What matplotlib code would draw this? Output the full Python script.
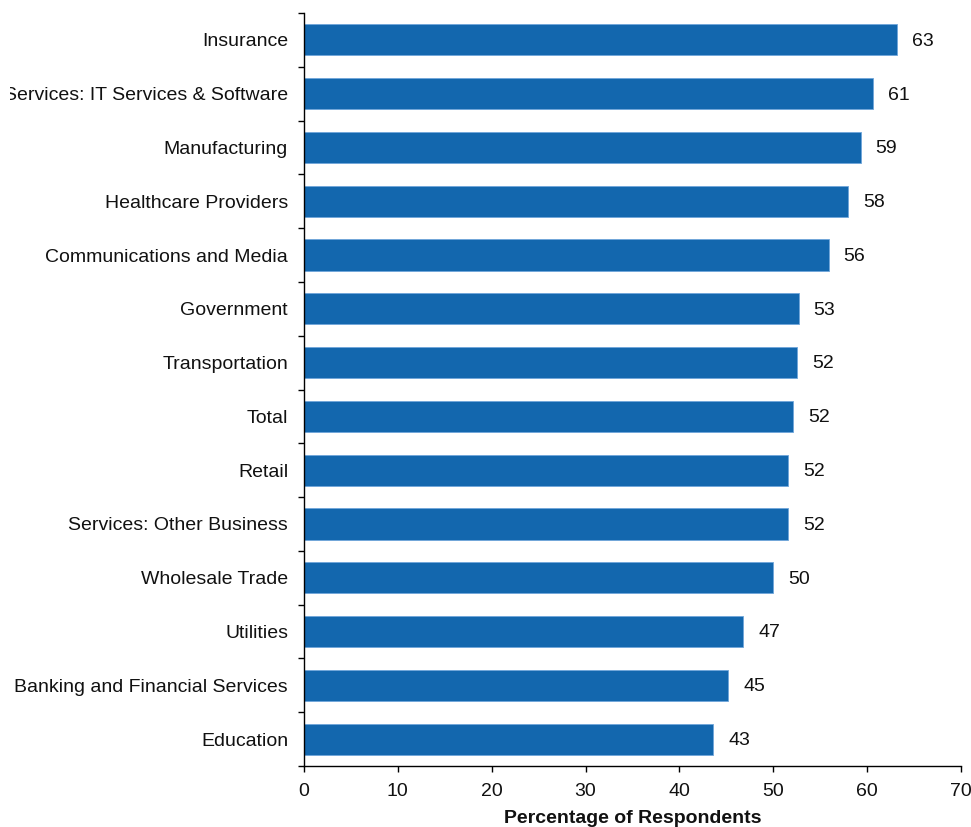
import matplotlib
matplotlib.use("Agg")
import matplotlib.pyplot as plt
from matplotlib.patches import Rectangle
import numpy as np

categories = ["Insurance", "Services: IT Services & Software", "Manufacturing",
              "Healthcare Providers", "Communications and Media", "Government",
              "Transportation", "Total", "Retail", "Services: Other Business",
              "Wholesale Trade", "Utilities", "Banking and Financial Services",
              "Education"]
values = [63.2, 60.6, 59.3, 58.0, 55.9, 52.7, 52.5, 52.1, 51.6, 51.6, 50.0, 46.8, 45.2, 43.6]
value_labels = ["63", "61", "59", "58", "56", "53", "52", "52", "52", "52", "50", "47", "45", "43"]
xticks = [0, 10, 20, 30, 40, 50, 60, 70]

plt.rcParams['font.family'] = ['Liberation Sans', 'DejaVu Sans']

fig = plt.figure(figsize=(9.71, 8.27), dpi=100)
ax = fig.add_axes([304/971, 1-766/827, (961-304)/971, (766-13)/827])

y = np.arange(len(categories))
ax.barh(y, values, height=0.58, color='#1367AE', edgecolor='#6FA6DA', linewidth=0.6)

for yi, v, lab in zip(y, values, value_labels):
    ax.annotate(lab, xy=(v, yi), xytext=(10.8, -1), textcoords='offset points',
                ha='left', va='center', fontsize=14, color='#111111')

ax.set_ylim(len(categories) - 0.5, -0.5)
ax.set_xlim(0, 70)
ax.set_xticks(xticks)
ax.set_yticks(y)
ax.set_yticklabels(categories, fontsize=14, color='#111111')
ax.set_yticks(np.arange(len(categories) + 1) - 0.5, minor=True)
ax.tick_params(axis='y', which='major', length=0, pad=11.5)
ax.tick_params(axis='y', which='minor', length=4, width=1, direction='out')
ax.tick_params(axis='x', which='major', length=4, width=1, direction='out', labelsize=14, pad=8.6,
               labelcolor='#111111')

for s in ['top', 'right']:
    ax.spines[s].set_visible(False)
ax.spines['left'].set_linewidth(1)
ax.spines['bottom'].set_linewidth(1)

ax.set_xlabel("Percentage of Respondents", fontsize=14, fontweight='bold', labelpad=6.5, color='#111111')

# emulate the clipped left edge of the original chart
fig.patches.append(Rectangle((0, 0), 10/971, 1, transform=fig.transFigure,
                             facecolor='white', edgecolor='none', zorder=10))

fig.savefig("out.png", dpi=100)
